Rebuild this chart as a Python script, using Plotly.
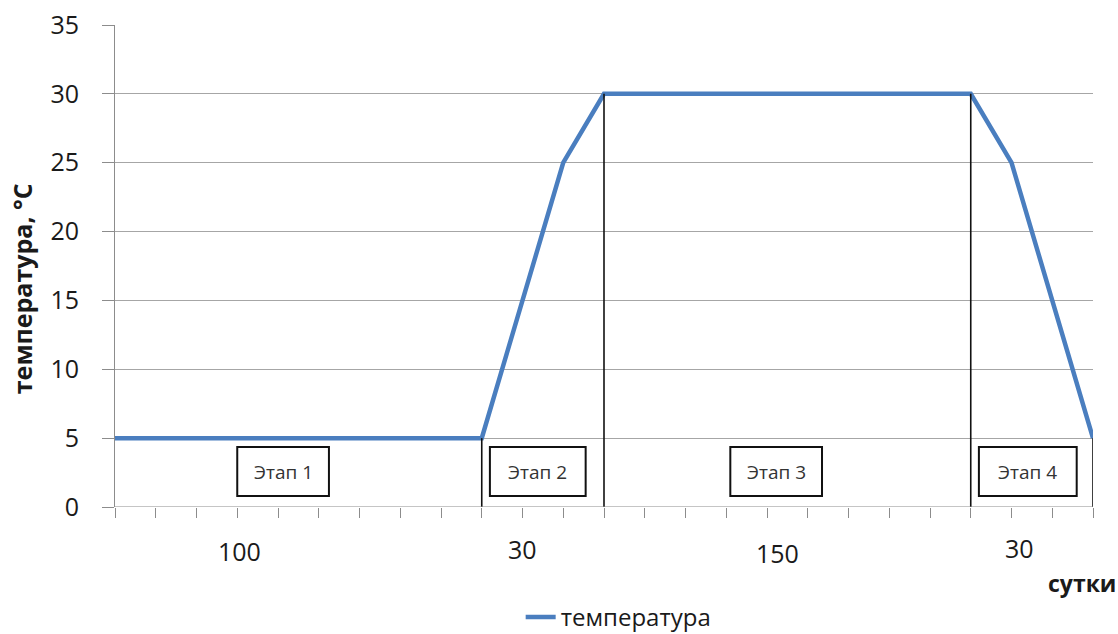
import plotly.graph_objects as go

# temperature profile vertices (x in axis tick units, y in °C)
day_idx = [0, 9, 11, 12, 21, 22, 24]
temperature = [5, 5, 25, 30, 30, 25, 5]

# stage annotations
stage_names = ["Этап 1", "Этап 2", "Этап 3", "Этап 4"]
stage_days = ["100", "30", "150", "30"]
stage_label_x = [3.05, 10.0, 16.25, 22.2]
stage_label_y = [-0.091, -0.087, -0.095, -0.085]
stage_box_x0 = [3.0, 9.2, 15.1, 21.2]
stage_box_x1 = [5.25, 11.55, 17.35, 23.6]
stage_bounds = [(9, 5), (12, 30), (21, 30), (24, 5)]

FONT = "Open Sans, sans-serif"
TXT = "#1a1a1a"

fig = go.Figure()
fig.add_trace(go.Scatter(
    x=day_idx, y=temperature, mode="lines", name="температура",
    line=dict(color="#4A7EBF", width=4.5),
))

shapes = []
for bx, by in stage_bounds:
    shapes.append(dict(type="line", xref="x", yref="y", x0=bx, x1=bx, y0=-0.1, y1=by,
                       line=dict(color="#111111", width=1.6), layer="above"))
for x0, x1 in zip(stage_box_x0, stage_box_x1):
    shapes.append(dict(type="rect", xref="x", yref="y", x0=x0, x1=x1, y0=0.8, y1=4.35,
                       line=dict(color="#111111", width=2), fillcolor="rgba(0,0,0,0)"))
# x axis baseline
shapes.append(dict(type="line", xref="paper", yref="y", x0=0, x1=1, y0=0, y1=0,
                   line=dict(color="#8c8c8c", width=1.2)))

annotations = []
for name, x0, x1 in zip(stage_names, stage_box_x0, stage_box_x1):
    annotations.append(dict(x=(x0 + x1) / 2, y=2.55, xref="x", yref="y", text=name,
                            showarrow=False, font=dict(size=19, color="#333333", family=FONT)))
for lab, lx, ly in zip(stage_days, stage_label_x, stage_label_y):
    annotations.append(dict(x=lx, y=ly, xref="x", yref="paper", yanchor="middle", text=lab,
                            showarrow=False, font=dict(size=25, color=TXT, family=FONT)))
annotations.append(dict(x=1.0255, y=-0.158, xref="paper", yref="paper", xanchor="right",
                        yanchor="middle", text="<b>сутки</b>", showarrow=False,
                        font=dict(size=23, color=TXT, family=FONT)))
annotations.append(dict(x=-0.095, y=0.452, xref="paper", yref="paper", xanchor="center",
                        yanchor="middle", textangle=-90, text="<b>температура, °С</b>",
                        showarrow=False, font=dict(size=25, color=TXT, family=FONT)))

fig.update_layout(
    width=1118, height=634,
    margin=dict(l=115, r=25, t=25, b=127, autoexpand=False),
    paper_bgcolor="white", plot_bgcolor="white",
    showlegend=True,
    legend=dict(orientation="h", x=0.515, xanchor="center", y=-0.229, yanchor="middle",
                font=dict(size=24, color=TXT, family=FONT)),
    shapes=shapes, annotations=annotations,
    xaxis=dict(range=[0, 24], showgrid=False, zeroline=False,
               showline=False, showticklabels=False, ticks="",
               minor=dict(tickvals=list(range(25)), ticks="outside", ticklen=10,
                          tickcolor="#8c8c8c", showgrid=False)),
    yaxis=dict(range=[0, 35], tickvals=[0, 5, 10, 15, 20, 25, 30, 35],
               showgrid=True, gridcolor="#a6a6a6", gridwidth=1,
               zeroline=False, showline=True, linecolor="#8c8c8c",
               ticks="outside", ticklen=12, tickcolor="#8c8c8c",
               ticklabelstandoff=18,
               tickfont=dict(size=25, color=TXT, family=FONT)),
)

fig.write_html("out.html")
